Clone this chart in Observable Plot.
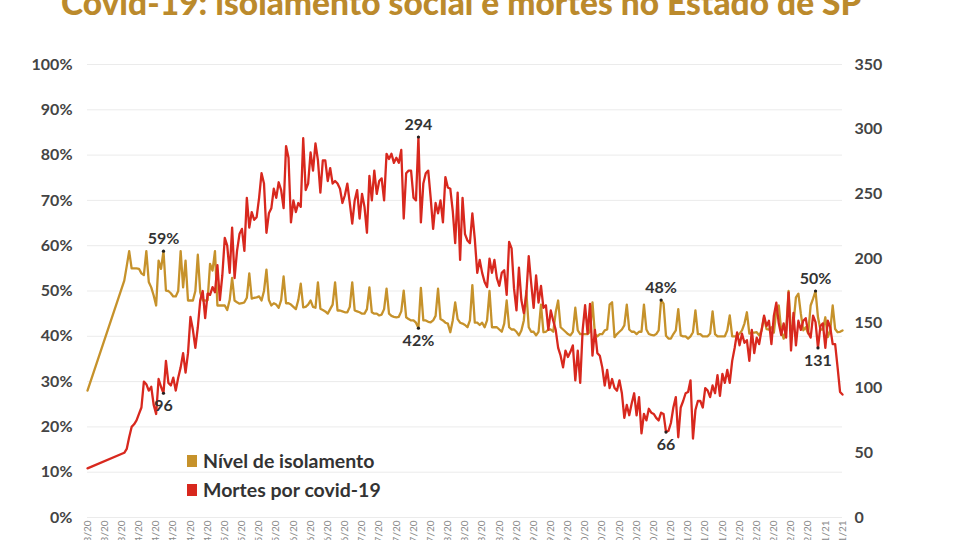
<!DOCTYPE html>
<html><head><meta charset="utf-8">
<script src="https://cdn.jsdelivr.net/npm/d3@7"></script>
<script src="https://cdn.jsdelivr.net/npm/@observablehq/plot@0.6"></script>
<style>
html,body{margin:0;padding:0;background:#fff;width:960px;height:540px;overflow:hidden;font-family:Lato,"Open Sans",sans-serif;}
#chart{position:absolute;left:0;top:0;}
#title{position:absolute;left:61px;top:-14px;font-size:33.5px;line-height:33.5px;font-weight:900;color:#BB8A2C;white-space:nowrap;}
#legend{position:absolute;left:187px;top:446px;font-size:19.5px;font-weight:700;color:#333;}
.row{display:flex;align-items:center;height:29px;}
.sw{width:10px;height:12px;margin-right:6px;}
</style></head><body>
<div id="chart"></div>
<div id="title">Covid-19: isolamento social e mortes no Estado de SP</div>
<div id="legend"></div>
<script>
// Daily data starting 12/03/2020 (index 0) to 14/01/2021 (index 308)
const startDate = "2020-03-12";
const isolamento = [28, null,null,null,null,null,null,null,null,null,null,null,null,null,null,
52.3,55.5,58.8,55,55,55,54.9,53.9,53.5,58.8,
52,50.8,49,46.8,56.7,54.9,58.8,50.1,50,49.5,
48.8,48.8,50,58.8,50.8,56.7,47.9,47.9,47.9,50,
58,49.7,47.9,47.9,48,56,54.5,58.8,46.8,46.8,
46.8,46.8,45.8,48,52.9,47.9,47.5,47.2,47.3,47.5,
48.5,53.9,48.3,48.5,48.6,48.8,47.9,50,54.7,48,
46.8,47.3,47,46.3,48,53.2,47.3,47.3,47,46.5,
46,48,51.6,46.4,46.5,47,47.9,46.5,46.3,51.9,
46.1,45.8,45.5,45,46,47,51.9,45.7,45.7,45.5,
45.3,45.3,46.5,51.9,45.7,45.5,45.3,45,45,46,
50.8,45.3,45,45,44.6,44.8,46,50.5,45,44.5,
44.3,44.2,44.3,45.5,50.1,44.2,43.8,43.5,43.5,43,
41.8,50.7,43.5,43.5,43.2,43.1,43.5,44.5,50.5,43.8,
43.5,43,42.8,40.9,43.5,47.5,43.8,43,42.8,42.5,
42,43.5,51.3,43,43,42.5,43,42,43.5,50,
42,42,42,41.5,41,42.8,47.9,42,41.5,41.5,
41,40.2,41.3,43.5,50,42,41,41,40.2,41,
47,40.9,41,41.5,41.5,41,45.3,47.9,42,41.5,
41,40.5,40.2,41,46.3,41.3,40.5,40.5,40.5,40.5,
41,47.5,40.5,40,40.5,40.5,41.3,41.5,47,47.5,
39.8,40.5,41,41.5,42.4,47,41.5,41,41,40.5,
41,41,47,41.5,40.5,40.3,40.2,40.5,41.3,48,
47.2,40.1,39.5,39.5,40.5,41.3,46,40.2,40,40,
39.5,40,40.9,45.7,40.5,40.5,40,40,40,40.6,
45.5,40.5,40,40,40,40,41.3,44.6,40,40,
40,40.6,41.3,42.8,45.3,40.6,40.8,40.8,40.9,40.2,
41.3,44.2,41.6,41.5,42,40.8,45.7,46.8,41.3,39.5,
41.3,50,40.9,42.8,48.6,49.4,45,41.3,42,40.6,
46.8,48.3,50,44.2,41.5,41.5,44.2,39.8,41.3,46.8,
41.6,40.9,41,41.3];
const mortes = [38, null,null,null,null,null,null,null,null,null,null,null,null,null,null,
50,53,62,70,72,75,80,85,105,103,
98,101,87,80,107,101,96,121,104,102,
108,98,108,116,127,112,127,155,145,131,
147,168,175,154,173,172,178,174,195,168,
187,216,210,189,224,185,206,219,223,206,
247,224,236,230,232,247,266,258,220,235,
239,254,247,259,253,239,287,278,228,245,
236,243,240,293,253,258,282,268,289,276,
251,276,276,260,270,258,260,258,254,243,
249,258,243,227,245,253,231,250,240,220,
264,245,268,250,260,262,245,281,277,281,
274,278,274,284,231,266,268,268,247,245,
294,228,258,266,268,247,223,243,235,245,
228,263,255,254,237,212,251,199,247,219,
214,212,235,215,189,199,189,182,178,200,
189,199,185,179,189,191,172,213,208,177,
160,193,168,158,172,202,181,162,187,166,
179,162,164,145,160,152,145,131,125,116,
129,124,128,133,106,129,104,145,164,142,
165,125,145,127,125,116,102,114,100,107,
100,98,106,96,77,87,79,88,96,79,
93,65,80,75,84,81,80,77,75,81,
80,66,67,73,85,93,62,85,90,96,
97,106,61,83,90,90,85,100,98,93,
102,96,110,94,111,104,114,104,121,131,
143,133,142,135,137,121,145,127,139,134,
145,156,148,152,134,156,166,150,141,150,
139,174,129,158,133,152,145,152,154,143,
139,156,151,131,148,150,131,152,147,134,
134,116,97,95];
// annotated days (index) and whether label sits above the point
const isoAnnDays = [31, 135, 234, 297];
const isoAnnAbove = [true, false, true, true];
const morAnnDays = [31, 135, 236, 298];
const morAnnAbove = [false, true, false, false];
const pctTicks = [0,10,20,30,40,50,60,70,80,90,100];
const deathTicks = [0,50,100,150,200,250,300,350];
const seriesNames = ["Nível de isolamento", "Mortes por covid-19"];
const gold = "#C6922B", red = "#D8281E";

const t0 = new Date(startDate + "T00:00:00Z");
const dates = isolamento.map((_, i) => d3.utcDay.offset(t0, i));
const K = 100 / 350; // deaths -> percent scale
const rows = dates.map((d, i) => ({date: d, iso: isolamento[i], mor: mortes[i]}));
const isoRows = rows.filter(r => r.iso != null);
const morRows = rows.filter(r => r.mor != null);
const tickDates = d3.range(0, dates.length, 7).map(i => dates[i]);
const isoAnn = isoAnnDays.map((d, j) => ({...rows[d], above: isoAnnAbove[j]}));
const morAnn = morAnnDays.map((d, j) => ({...rows[d], above: morAnnAbove[j]}));

const txt = {fontSize: 16, fontWeight: 700, fill: "#333"};
const chart = Plot.plot({
  width: 960, height: 600,
  marginTop: 64, marginBottom: 83, marginLeft: 87, marginRight: 118,
  style: {fontFamily: "Lato, 'Open Sans', sans-serif", background: "transparent"},
  x: {type: "utc", domain: [dates[0], dates[dates.length - 1]]},
  y: {domain: [0, 100]},
  marks: [
    Plot.gridY(pctTicks, {stroke: "#ebebeb", strokeOpacity: 1, strokeWidth: 1}),
    Plot.axisY(pctTicks, {anchor: "left", tickSize: 0, tickPadding: 15, tickFormat: d => d + "%", fontSize: 16, fontWeight: 700, color: "#444", label: null}),
    Plot.axisY(deathTicks.map(v => v * K), {anchor: "right", tickSize: 0, tickPadding: 12, tickFormat: d => String(Math.round(d / K)), fontSize: 16, fontWeight: 700, color: "#444", label: null}),
    Plot.axisX(tickDates, {anchor: "bottom", tickSize: 0, tickPadding: 3, tickRotate: -90, tickFormat: d3.utcFormat("%d/%m/%y"), fontSize: 10, color: "#8a8a8a", label: null}),
    Plot.line(isoRows, {x: "date", y: "iso", stroke: gold, strokeWidth: 2.3}),
    Plot.line(morRows, {x: "date", y: d => d.mor * K, stroke: red, strokeWidth: 2.3}),
    Plot.dot(isoAnn, {x: "date", y: "iso", r: 1.6, fill: "#222"}),
    Plot.dot(morAnn, {x: "date", y: d => d.mor * K, r: 1.6, fill: "#222"}),
    Plot.text(isoAnn.filter(d => d.above), {x: "date", y: "iso", text: d => Math.round(d.iso) + "%", dy: -12, ...txt}),
    Plot.text(isoAnn.filter(d => !d.above), {x: "date", y: "iso", text: d => Math.round(d.iso) + "%", dy: 13, ...txt}),
    Plot.text(morAnn.filter(d => d.above), {x: "date", y: d => d.mor * K, text: d => String(d.mor), dy: -12, ...txt}),
    Plot.text(morAnn.filter(d => !d.above), {x: "date", y: d => d.mor * K, text: d => String(d.mor), dy: 13, ...txt})
  ]
});
document.getElementById("chart").append(chart);

const legend = document.getElementById("legend");
[gold, red].forEach((c, i) => {
  const row = document.createElement("div");
  row.className = "row";
  row.innerHTML = `<span class="sw" style="background:${c}"></span><span>${seriesNames[i]}</span>`;
  legend.append(row);
});
</script>
</body></html>
